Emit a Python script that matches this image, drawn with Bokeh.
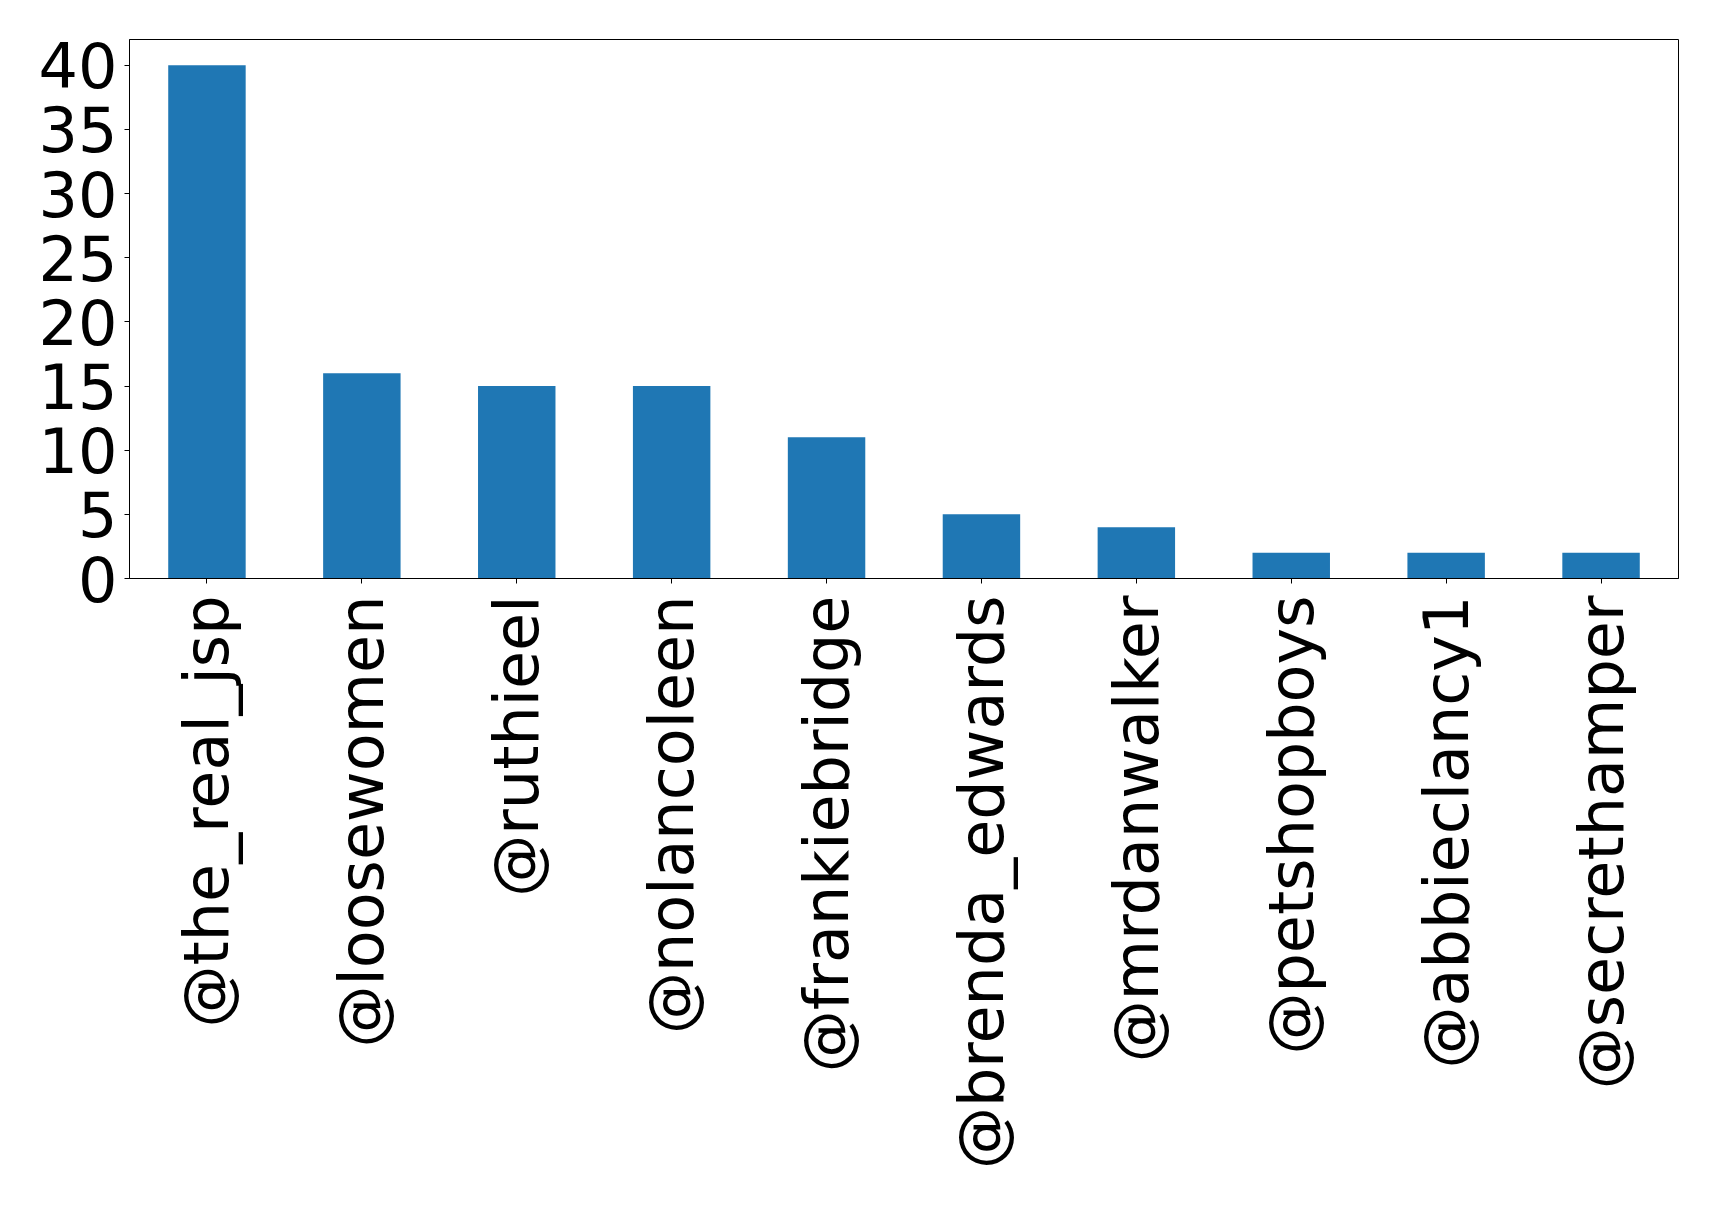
from math import pi
from bokeh.plotting import figure
from bokeh.models import Range1d, FixedTicker
from bokeh.embed import file_html
from bokeh.resources import INLINE

handles = ["@the_real_jsp", "@loosewomen", "@ruthieel", "@nolancoleen", "@frankiebridge",
           "@brenda_edwards", "@mrdanwalker", "@petshopboys", "@abbieclancy1", "@secrethamper"]
counts = [40, 16, 15, 15, 11, 5, 4, 2, 2, 2]
y_ticks = [0, 5, 10, 15, 20, 25, 30, 35, 40]

xs = list(range(len(handles)))

p = figure(width=1719, height=1206, output_backend="svg", toolbar_location=None,
           x_range=Range1d(-0.5, len(handles) - 0.5), y_range=Range1d(0, 42))
p.min_border_left = 129
p.min_border_right = 41
p.min_border_top = 39
p.min_border_bottom = 628
p.background_fill_color = "white"
p.border_fill_color = "white"
p.outline_line_color = "black"
p.outline_line_width = 1
p.grid.visible = False

p.vbar(x=xs, top=counts, width=0.5, bottom=0, color="#1f77b4", line_color=None)

p.xaxis.ticker = FixedTicker(ticks=xs)
p.xaxis.major_label_overrides = {i: h for i, h in enumerate(handles)}
p.xaxis.major_label_orientation = pi / 2
p.yaxis.ticker = FixedTicker(ticks=y_ticks)

for ax in [p.xaxis[0], p.yaxis[0]]:
    ax.axis_line_color = "black"
    ax.major_tick_line_color = "black"
    ax.major_tick_out = 5
    ax.major_tick_in = 0
    ax.minor_tick_line_color = None
    ax.major_label_text_font = "DejaVu Sans"
    ax.major_label_text_font_size = "62px"
    ax.major_label_text_color = "black"
p.yaxis.major_label_standoff = 7
p.xaxis.major_label_standoff = 12

open("out.html", "w").write(file_html(p, INLINE))
